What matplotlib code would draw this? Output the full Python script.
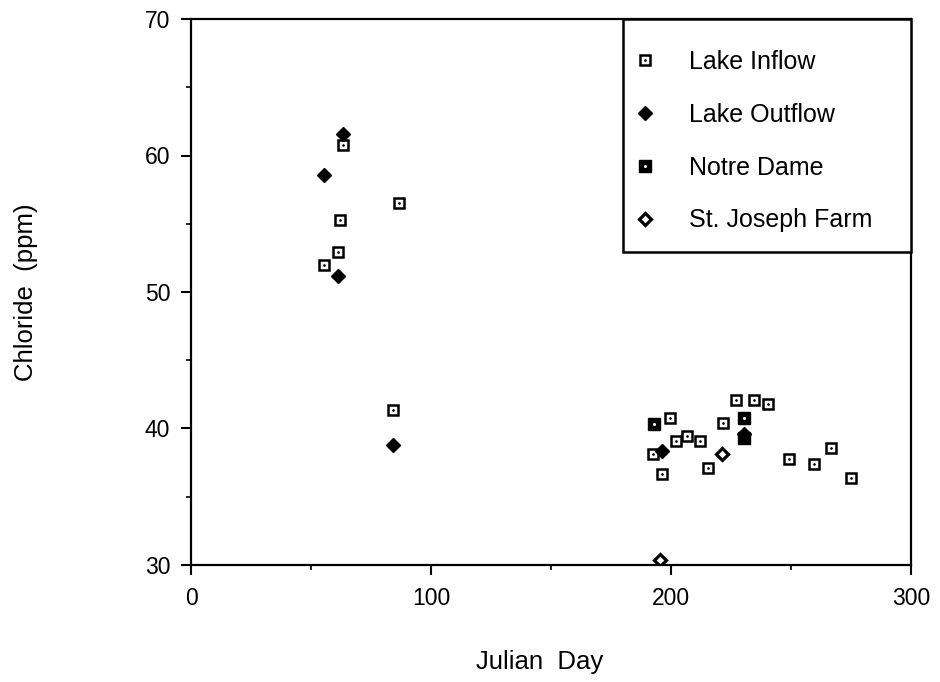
import matplotlib
matplotlib.use('Agg')
import matplotlib.pyplot as plt
from matplotlib.ticker import MultipleLocator
from matplotlib.legend_handler import HandlerTuple
from matplotlib.patches import Rectangle

plt.rcParams['font.family'] = ['Liberation Sans', 'DejaVu Sans']

# Data
inflow_day = [55.4, 61.4, 62.1, 63.2, 86.7, 84.0, 192.4, 196.1, 199.6, 202.0,
              206.5, 212.1, 215.5, 221.5, 227.1, 234.7, 240.6, 249.0, 259.6,
              266.7, 275.0]
inflow_ppm = [52.0, 52.9, 55.3, 60.8, 56.5, 41.35, 38.1, 36.7, 40.8, 39.1,
              39.45, 39.1, 37.1, 40.4, 42.1, 42.1, 41.8, 37.8, 37.4, 38.55, 36.4]
outflow_day = [55.5, 63.2, 61.4, 84.0, 196.4, 230.4]
outflow_ppm = [58.6, 61.6, 51.2, 38.8, 38.35, 39.6]
nd_day = [192.9, 230.4, 230.4]
nd_ppm = [40.3, 40.8, 39.3]
sj_day = [195.4, 221.4]
sj_ppm = [30.4, 38.1]

labels = ['Lake Inflow', 'Lake Outflow', 'Notre Dame', 'St. Joseph Farm']

fig = plt.figure(figsize=(9.4, 6.82), dpi=100)
ax = fig.add_axes([191/940, 1-565/682, 720/940, 546/682])

k = dict(linestyle='none')
h_in1, = ax.plot(inflow_day, inflow_ppm, marker='s', ms=7.5, mfc='white', mec='black', mew=1.8, **k)
h_in2, = ax.plot(inflow_day, inflow_ppm, marker='o', ms=1.9, mfc='black', mec='black', mew=0, **k)
h_nd1, = ax.plot(nd_day, nd_ppm, marker='s', ms=8.5, mfc='black', mec='black', mew=1, **k)
h_nd2, = ax.plot(nd_day, nd_ppm, marker='o', ms=2.2, mfc='white', mec='white', mew=0, **k)
h_out, = ax.plot(outflow_day, outflow_ppm, marker='D', ms=7, mfc='black', mec='black', mew=1, **k)
h_sj, = ax.plot(sj_day, sj_ppm, marker='D', ms=5.8, mfc='white', mec='black', mew=2.3, **k)

ax.set_xlim(0, 300)
ax.set_ylim(30, 70)
ax.xaxis.set_major_locator(MultipleLocator(100))
ax.xaxis.set_minor_locator(MultipleLocator(50))
ax.yaxis.set_major_locator(MultipleLocator(10))
ax.yaxis.set_minor_locator(MultipleLocator(5))
ax.tick_params(which='major', length=7, width=1.5, direction='out', labelsize=16.5, pad=8)
ax.tick_params(which='minor', length=3.5, width=1.2, direction='out')
ax.tick_params(axis='x', which='major', pad=9)
for s in ax.spines.values():
    s.set_linewidth(1.6)

ax.set_xlabel('Julian  Day', fontsize=18.5, va='center')
ax.xaxis.set_label_coords((540-191)/720, (565-662)/546)
ax.set_ylabel('Chloride  (ppm)', fontsize=18.5, va='center')
ax.yaxis.set_label_coords((26-191)/720, 0.5)

# legend frame
x0 = (623-191)/720
y0 = (565-252)/546
ax.add_patch(Rectangle((x0, y0), 1.0-x0, 1.0-y0, transform=ax.transAxes,
                       facecolor='white', edgecolor='black', linewidth=1.8,
                       zorder=4, clip_on=False))

leg = ax.legend([(h_in1, h_in2), h_out, (h_nd1, h_nd2), h_sj], labels,
                handler_map={tuple: HandlerTuple(ndivide=1)},
                loc='upper left', bbox_to_anchor=((634-191)/720, (565-50)/546),
                borderaxespad=0, borderpad=0, frameon=False,
                fontsize=18, labelspacing=1.15,
                handlelength=0.9, handletextpad=1.3)
leg.set_zorder(5)

fig.savefig('out.png', dpi=100)
